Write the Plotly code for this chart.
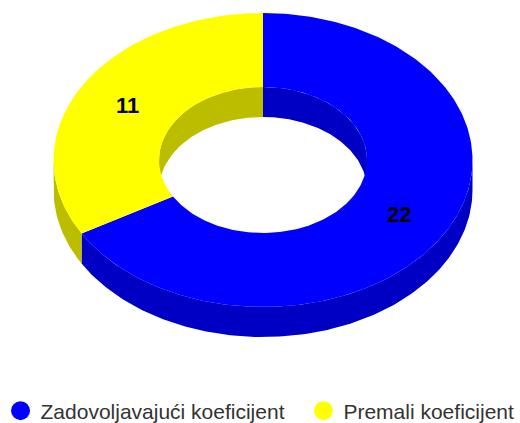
import numpy as np
import plotly.graph_objects as go

categories = ["Zadovoljavajući koeficijent", "Premali koeficijent"]
values = [22, 11]
top_colors = ["#0000ff", "#ffff00"]
wall_colors = ["#0000c4", "#bdbd00"]
label_positions = [(399, 214), (127, 105)]

# the figure is slightly taller than the 423 px window so the legend box is not clipped
FIG_H = 445
LEGEND_Y = (FIG_H - 411) / FIG_H

CX, CY = 263, 160
RX, RY = 209.5, 147
IRX, IRY = 104, 73
DEPTH = 30


def pt(angle, rx, ry, dy=0):
    return CX + rx * np.sin(angle), CY - ry * np.cos(angle) + dy


def arc(a0, a1):
    return np.linspace(a0, a1, max(2, int(abs(a1 - a0) * 60)))


fig = go.Figure()


def poly(x, y, color):
    fig.add_trace(go.Scatter(
        x=np.r_[x, x[0]], y=np.r_[y, y[0]], mode="lines", fill="toself",
        fillcolor=color, line=dict(width=0, color=color),
        hoverinfo="skip", showlegend=False))


fractions = np.array(values) / sum(values)
edges = np.r_[0, np.cumsum(fractions)] * 2 * np.pi

# outer walls: only the front half (pi/2..3pi/2) can be seen
for i in range(len(values)):
    a0, a1 = max(edges[i], np.pi / 2), min(edges[i + 1], 3 * np.pi / 2)
    if a1 > a0:
        t = arc(a0, a1)
        x1, y1 = pt(t, RX, RY)
        x2, y2 = pt(t[::-1], RX, RY, DEPTH)
        poly(np.r_[x1, x2], np.r_[y1, y2], wall_colors[i])

# inner walls: only the far half of the hole can be seen
for i in range(len(values)):
    ranges = [(edges[i], min(edges[i + 1], np.pi / 2)),
              (max(edges[i], 3 * np.pi / 2), edges[i + 1])]
    for a0, a1 in ranges:
        if a1 > a0:
            t = arc(a0, a1)
            x1, y1 = pt(t, IRX, IRY)
            x2, y2 = pt(t[::-1], IRX, IRY, DEPTH)
            poly(np.r_[x1, x2], np.r_[y1, y2], wall_colors[i])

# white hole below the inner wall is plain background; top faces last
for i in range(len(values)):
    t = arc(edges[i], edges[i + 1])
    x1, y1 = pt(t, RX, RY)
    x2, y2 = pt(t[::-1], IRX, IRY)
    poly(np.r_[x1, x2], np.r_[y1, y2], top_colors[i])

# legend entries, one legend each so the gap between them can be set
for name, color, leg in zip(categories, top_colors, ["legend", "legend2"]):
    fig.add_trace(go.Scatter(
        x=[None], y=[None], mode="markers", name=name, legend=leg,
        marker=dict(symbol="circle", size=16, color=color,
                    line=dict(color=color, width=3))))

for v, (lx, ly) in zip(values, label_positions):
    fig.add_annotation(x=lx, y=ly, text=str(v), showarrow=False,
                       font=dict(family="Liberation Sans", size=22, color="#000000", weight="bold"))

legend_font = dict(family="Liberation Sans", size=21, color="#333333")
fig.update_layout(
    width=520, height=FIG_H, margin=dict(l=0, r=0, t=0, b=0, autoexpand=False),
    paper_bgcolor="#ffffff", plot_bgcolor="#ffffff",
    xaxis=dict(range=[0, 520], visible=False, fixedrange=True),
    yaxis=dict(range=[FIG_H, 0], visible=False, fixedrange=True),
    legend=dict(orientation="h", x=0.001, xanchor="left", y=LEGEND_Y, yanchor="middle",
                font=legend_font, bgcolor="rgba(0,0,0,0)"),
    legend2=dict(orientation="h", x=0.5835, xanchor="left", y=LEGEND_Y, yanchor="middle",
                 font=legend_font, bgcolor="rgba(0,0,0,0)"),
)

fig.write_html("out.html", config={"displayModeBar": False},
               post_script="document.body.style.margin='0';document.documentElement.style.overflow='hidden';")
